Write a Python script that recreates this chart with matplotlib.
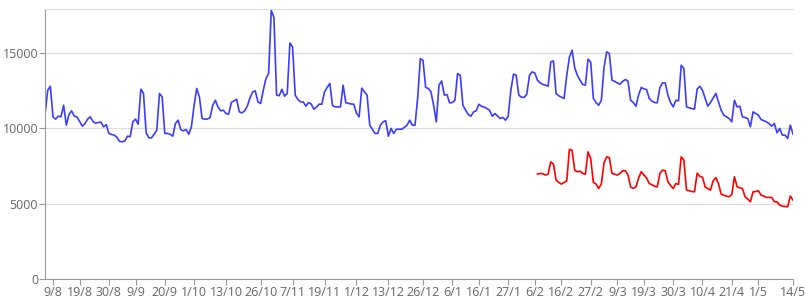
import numpy as np
import pandas as pd
import matplotlib
matplotlib.use("Agg")
from matplotlib import pyplot as plt

# daily values, 6/8 -> 14/5
start = "2022-08-06"
blue_vals = [
    10860, 12500, 12780, 10750, 10600, 10800, 10750, 11520, 10200, 10900,
    11150, 10800, 10750, 10450, 10130, 10300, 10600, 10750, 10450, 10330,
    10380, 10400, 10090, 10230, 9650, 9580, 9540, 9400, 9120, 9100,
    9150, 9470, 9430, 10420, 10600, 10260, 12580, 12300, 9700, 9360,
    9360, 9600, 9870, 12300, 12080, 9650, 9650, 9600, 9470, 10300,
    10530, 9910, 9820, 9910, 9600, 10090, 11500, 12630, 12080, 10640,
    10600, 10600, 10700, 11500, 11850, 11400, 11150, 11190, 10970, 10930,
    11700, 11810, 11920, 11080, 11010, 11150, 11460, 12000, 12400, 12470,
    11740, 11630, 12500, 13290, 13620, 17800, 17350, 12190, 12150, 12580,
    12120, 12300, 15650, 15390, 12190, 11900, 11740, 11740, 11460, 11700,
    11600, 11260, 11400, 11590, 11590, 12400, 12700, 12960, 11500, 11410,
    11410, 11410, 12850, 11680, 11650, 11600, 11590, 11000, 10750, 12650,
    12400, 12190, 10200, 9900, 9650, 9650, 10200, 10420, 10490, 9470,
    9980, 9650, 9930, 9930, 9930, 10050, 10200, 10530, 10200, 10200,
    12000, 14610, 14500, 12700, 12630, 12400, 11500, 10420, 12850, 13130,
    12190, 12230, 11680, 11700, 11850, 13620, 13510, 11520, 11200, 10900,
    10790, 11080, 11150, 11590, 11450, 11400, 11300, 11190, 10790, 10970,
    10800, 10640, 10710, 10530, 10790, 12500, 13580, 13510, 12190, 12050,
    12040, 12250, 13500, 13730, 13660, 13180, 13000, 12900, 12850, 12780,
    14390, 14460, 12300, 12150, 12050, 11970, 13500, 14700, 15170, 14000,
    13500, 13180, 12900, 12850, 14570, 14390, 11970, 11700, 11520, 11850,
    14000, 15060, 14950, 13180, 13100, 13000, 12910, 13100, 13220, 13130,
    11850, 11700, 11460, 12200, 12700, 12600, 12560, 11970, 11800, 11700,
    11680, 12700, 13000, 13000, 12190, 11700, 11410, 11850, 11810, 14170,
    13950, 11410, 11350, 11300, 11260, 12600, 12780, 12500, 11970, 11460,
    11700, 12000, 12300, 11740, 11200, 10860, 10750, 10640, 10420, 11850,
    11410, 11460, 10750, 10700, 10640, 10090, 11080, 10970, 10860, 10570,
    10500, 10420, 10300, 10130, 10310, 9690, 9980, 9540, 9540, 9320,
    10200, 9600,
]

# second series starts 7/2
red_start = "2023-02-07"
red_vals = [
    6950, 7000, 6980, 6890, 6950, 7770, 7620, 6560, 6400, 6290,
    6400, 6500, 8590, 8540, 7200, 7110, 7150, 7000, 6950, 8430,
    7990, 6400, 6300, 6000, 6300, 7700, 8100, 8050, 7000, 6950,
    6890, 7000, 7180, 7180, 6900, 6100, 6000, 6110, 6700, 7110,
    6890, 6700, 6330, 6250, 6150, 6110, 7000, 7220, 7180, 6450,
    6200, 6000, 6330, 6270, 8100, 7880, 5890, 5850, 5800, 5780,
    7020, 6800, 6750, 6100, 6000, 5890, 6500, 6730, 6330, 5630,
    5550, 5500, 5450, 5600, 6780, 6110, 6050, 6000, 5450, 5300,
    5120, 5780, 5800, 5850, 5560, 5500, 5410, 5410, 5410, 5120,
    5120, 4900, 4830, 4800, 4790, 5500, 5230,
]

tick_labels = ["9/8", "19/8", "30/8", "9/9", "20/9", "1/10", "13/10", "26/10",
               "7/11", "19/11", "1/12", "13/12", "26/12", "6/1", "16/1", "27/1",
               "6/2", "16/2", "27/2", "9/3", "19/3", "30/3", "10/4", "21/4",
               "1/5", "14/5"]
y_ticks = [0, 5000, 10000, 15000]

blue_x = pd.date_range(start, periods=len(blue_vals), freq="D")
red_x = pd.date_range(red_start, periods=len(red_vals), freq="D")

def to_date(lbl):
    d, m = lbl.split("/")
    y = 2022 if int(m) >= 8 else 2023
    return pd.Timestamp(year=y, month=int(m), day=int(d))

tick_pos = [to_date(t) for t in tick_labels]

plt.rcParams['font.family'] = ['Open Sans', 'DejaVu Sans']
fig = plt.figure(figsize=(8.05, 3.01), dpi=100)
ax = fig.add_axes([45/805, 1 - 279/301, 748/805, 270/301])

ax.plot(blue_x, blue_vals, color="#3c3cff", lw=1.2)
ax.plot(red_x, red_vals, color="#ff0000", lw=1.2)

ax.set_xlim(blue_x[0], blue_x[-1])
ax.set_ylim(0, 17900)
ax.set_xticks(tick_pos)
ax.set_xticklabels(tick_labels)
ax.set_yticks(y_ticks)
ax.set_yticklabels([str(v) for v in y_ticks])

ax.grid(axis="y", color="#dddddd", lw=0.9)
ax.set_axisbelow(True)
for s in ["right"]:
    ax.spines[s].set_visible(False)
ax.spines["top"].set_color("#dddddd")
ax.spines["left"].set_color("#999999")
ax.spines["bottom"].set_color("#999999")
ax.tick_params(axis="both", colors="#999999", labelcolor="#666666",
               labelsize=9, length=4, width=0.8, pad=1)

fig.savefig("out.png", dpi=100)
